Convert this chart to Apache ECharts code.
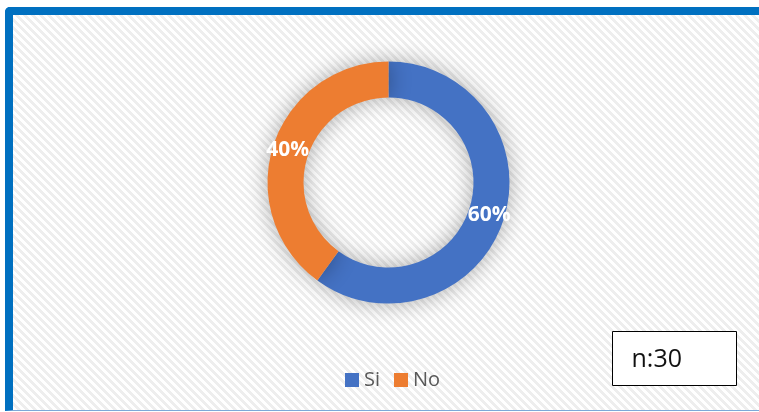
<!DOCTYPE html>
<html>
<head>
<meta charset="utf-8">
<script src="https://cdn.jsdelivr.net/npm/echarts@6/dist/echarts.min.js"></script>
<style>
  html, body { margin: 0; padding: 0; background: #fff; }
  #frame {
    position: absolute; left: 5px; top: 7px; width: 760px; height: 395px;
    border-top: 8px solid #0070C0; border-left: 8px solid #0070C0;
    border-bottom: 1px solid #7ea9d8;
    border-top-left-radius: 5px;
    background: repeating-linear-gradient(45deg, #ffffff 0px, #ffffff 3px, #eeeeee 3px, #eeeeee 5.66px);
  }
  #chart { position: absolute; left: 0; top: 0; width: 759px; height: 412px; }
</style>
</head>
<body>
<div id="frame"></div>
<div id="chart"></div>
<script>
// datos del grafico
var categorias = ['Si', 'No'];
var valores = [60, 40];
var colores = ['#4472C4', '#ED7D31'];
var muestra = 'n:30';

var myChart = echarts.init(document.getElementById('chart'), null, {renderer: 'canvas'});

var datos = [];
for (var i = 0; i < categorias.length; i++) {
    datos.push({name: categorias[i], value: valores[i], itemStyle: {color: colores[i]}});
}

var option = {
    backgroundColor: 'transparent',
    animation: false,
    legend: {
        data: categorias,
        left: 340,
        top: 365,
        icon: 'rect',
        itemWidth: 14,
        itemHeight: 14,
        itemGap: 14,
        textStyle: {
            fontFamily: 'Open Sans',
            fontSize: 20,
            color: '#595959'
        }
    },
    series: [
        {
            type: 'pie',
            center: [388.5, 182.5],
            radius: [85, 121],
            startAngle: 90,
            clockwise: true,
            avoidLabelOverlap: false,
            itemStyle: {
                shadowBlur: 22,
                shadowColor: 'rgba(0,0,0,0.32)'
            },
            label: {
                show: true,
                position: 'inside',
                formatter: '{d}%',
                color: '#fff',
                fontFamily: 'Open Sans',
                fontWeight: 'bold',
                fontSize: 21
            },
            labelLine: {show: false},
            emphasis: {disabled: true},
            data: datos
        }
    ],
    graphic: [
        {
            type: 'group',
            left: 612,
            top: 331,
            children: [
                {
                    type: 'rect',
                    shape: {x: 0, y: 0, width: 124, height: 54},
                    style: {fill: '#fff', stroke: '#000', lineWidth: 1}
                },
                {
                    type: 'text',
                    x: 19,
                    y: 28,
                    style: {
                        text: muestra,
                        fontFamily: 'Open Sans',
                        fontSize: 25,
                        fill: '#111',
                        verticalAlign: 'middle'
                    }
                }
            ]
        }
    ]
};

myChart.setOption(option);
window.addEventListener('resize', myChart.resize);
</script>
</body>
</html>
